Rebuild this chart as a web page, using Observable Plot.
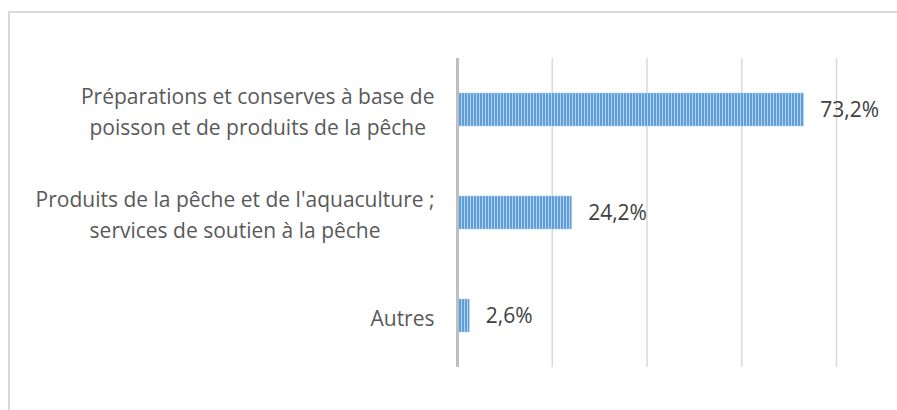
<!DOCTYPE html>
<html>
<head>
<meta charset="utf-8">
<script src="https://cdn.jsdelivr.net/npm/d3@7"></script>
<script src="https://cdn.jsdelivr.net/npm/@observablehq/plot@0.6"></script>
<style>
  html, body { margin: 0; padding: 0; background: #fff; overflow: hidden; }
  #wrap { position: relative; width: 897px; height: 410px; overflow: hidden; }
  #frame { position: absolute; left: 8px; top: 11px; width: 1000px; height: 1000px;
           border-top: 2px solid #d9d9d9; border-left: 2px solid #d9d9d9; box-sizing: border-box; }
  #chart { position: absolute; left: 0; top: 0; }
</style>
</head>
<body>
<div id="wrap"><div id="frame"></div><div id="chart"></div></div>
<script>
const categories = [
  "Préparations et conserves à base de poisson et de produits de la pêche",
  "Produits de la pêche et de l'aquaculture ; services de soutien à la pêche",
  "Autres"
];
const values = [73.2, 24.2, 2.6];
const tickLabels = [
  "Préparations et conserves à base de\npoisson et de produits de la pêche",
  "Produits de la pêche et de l'aquaculture ;\nservices de soutien à la pêche",
  "Autres"
];
const gridTicks = [20, 40, 60, 80];

const data = categories.map((c, i) => ({category: c, value: values[i]}));
const fmt = v => v.toFixed(1).replace(".", ",") + "%";

const svg = Plot.plot({
  width: 897,
  height: 410,
  marginLeft: 457,
  marginRight: 61,
  marginTop: 58,
  marginBottom: 43,
  x: {domain: [0, 80], axis: null},
  y: {domain: categories, paddingInner: 0.68, paddingOuter: 0.34, label: null, axis: null},
  style: {fontFamily: "'Open Sans', sans-serif", fontSize: "21px", background: "transparent", color: "#595959"},
  marks: [
    Plot.ruleX(gridTicks, {stroke: "#d9d9d9", strokeWidth: 1.5, strokeOpacity: 1}),
    Plot.barX(data, {x: "value", y: "category", fill: "url(#stripes)", stroke: "#a9cbeb", strokeWidth: 0.5}),
    Plot.ruleX([0], {stroke: "#bfbfbf", strokeWidth: 3, strokeOpacity: 1}),
    Plot.text(data, {x: "value", y: "category", text: d => fmt(d.value), dx: 16,
                     textAnchor: "start", fill: "#404040", fontSize: 21}),
    Plot.axisY({tickSize: 0, tickPadding: 23, color: "#595959", fontSize: 21, lineHeight: 1.47,
                tickFormat: d => tickLabels[categories.indexOf(d)]})
  ]
});

const defs = document.createElementNS("http://www.w3.org/2000/svg", "defs");
defs.innerHTML = `<pattern id="stripes" patternUnits="userSpaceOnUse" x="0" y="0" width="3" height="10">
  <rect x="0" y="0" width="3" height="10" fill="#b3d2ef"></rect>
  <rect x="0" y="0" width="2" height="10" fill="#5f9fd8"></rect>
</pattern>`;
svg.insertBefore(defs, svg.firstChild);

document.getElementById("chart").appendChild(svg);

// center the lines of each multi-line category label within its right-aligned block
svg.querySelectorAll('g[aria-label="y-axis tick label"] text').forEach(t => {
  const spans = t.querySelectorAll("tspan");
  if (spans.length < 2) return;
  let w = 0;
  spans.forEach(s => { w = Math.max(w, s.getComputedTextLength()); });
  t.setAttribute("text-anchor", "middle");
  spans.forEach(s => s.setAttribute("x", -w / 2));
});
</script>
</body>
</html>
